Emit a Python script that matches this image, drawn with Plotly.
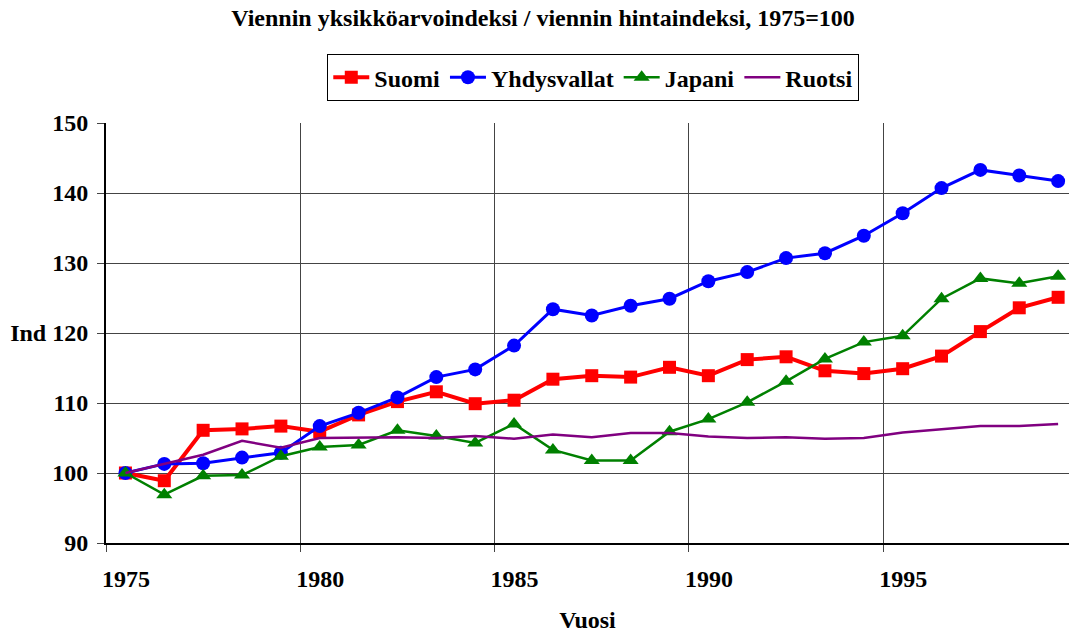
import plotly.graph_objects as go

years = list(range(1975, 2000))
suomi = [100, 98.9, 106.1, 106.3, 106.7, 105.9, 108.3, 110.2, 111.6, 109.9, 110.4, 113.4, 113.9,
         113.7, 115.1, 113.9, 116.2, 116.6, 114.6, 114.2, 114.9, 116.7, 120.2, 123.6, 125.1]
yhdysvallat = [100, 101.3, 101.4, 102.2, 102.9, 106.7, 108.6, 110.8, 113.7, 114.8, 118.2, 123.4, 122.5,
               123.9, 124.9, 127.4, 128.7, 130.7, 131.4, 133.9, 137.1, 140.7, 143.3, 142.5, 141.7]
japani = [100, 96.9, 99.6, 99.7, 102.4, 103.7, 104.0, 106.1, 105.3, 104.3, 107.0, 103.3, 101.8,
          101.8, 105.9, 107.7, 110.1, 113.1, 116.3, 118.7, 119.6, 124.9, 127.8, 127.1, 128.1]
ruotsi = [100, 101.3, 102.6, 104.6, 103.6, 105.0, 105.1, 105.1, 105.0, 105.3, 104.9, 105.5, 105.1,
          105.7, 105.7, 105.2, 105.0, 105.1, 104.9, 105.0, 105.8, 106.2, 106.7, 106.7, 107.0]

y_tickvals = [90, 100, 110, 120, 130, 140, 150]
y_ticktext = ["90", "100", "110", "Ind 120", "130", "140", "150"]
x_tickvals = [1975, 1980, 1985, 1990, 1995]
x_ticktext = ["1975", "1980", "1985", "1990", "1995"]

# data points sit mid-year
xs = [y + 0.5 for y in years]

FONT = "Liberation Serif, Times New Roman, serif"
FS = 24

fig = go.Figure()
fig.add_trace(go.Scatter(x=xs, y=suomi, name="Suomi", mode="lines+markers",
                         line=dict(color="#FF0000", width=4),
                         marker=dict(symbol="square", size=13, color="#FF0000")))
fig.add_trace(go.Scatter(x=xs, y=yhdysvallat, name="Yhdysvallat", mode="lines+markers",
                         line=dict(color="#0000FF", width=3),
                         marker=dict(symbol="circle", size=14, color="#0000FF")))
fig.add_trace(go.Scatter(x=xs, y=japani, name="Japani", mode="lines+markers",
                         line=dict(color="#008000", width=2.5),
                         marker=dict(symbol="triangle-up", size=14, color="#008000")))
fig.add_trace(go.Scatter(x=xs, y=ruotsi, name="Ruotsi", mode="lines",
                         line=dict(color="#800080", width=2.5)))

fig.update_layout(
    width=1069, height=633,
    margin=dict(l=106, r=0, t=123, b=90),
    paper_bgcolor="white", plot_bgcolor="white",
    font=dict(family=FONT, size=FS, color="black", weight="bold"),
    title=dict(text="Viennin yksikköarvoindeksi / viennin hintaindeksi, 1975=100",
               x=0.508, xanchor="center", y=0.972, yanchor="middle",
               font=dict(family=FONT, size=FS, color="black", weight="bold")),
    legend=dict(orientation="h", x=0.506, xanchor="center", y=1.164, yanchor="top",
                bordercolor="black", borderwidth=1, bgcolor="white",
                font=dict(family=FONT, size=FS, color="black", weight="bold"),
                itemwidth=36, tracegroupgap=0),
    showlegend=True,
)
fig.update_xaxes(
    range=[1975, 1999.78], tickvals=x_tickvals, ticktext=x_ticktext,
    showgrid=True, gridcolor="#444444", gridwidth=1,
    showline=True, linecolor="black", linewidth=2,
    ticks="outside", ticklen=7, tickcolor="#444444", tickwidth=1,
    ticklabelshift=20, ticklabelstandoff=6,
    tickfont=dict(family=FONT, size=FS, color="black", weight="bold"),
    title=dict(text="Vuosi", standoff=22,
               font=dict(family=FONT, size=FS, color="black", weight="bold")),
    zeroline=False,
)
fig.update_yaxes(
    range=[90, 150], tickvals=y_tickvals, ticktext=y_ticktext,
    showgrid=True, gridcolor="#444444", gridwidth=1,
    showline=True, linecolor="black", linewidth=2,
    ticks="outside", ticklen=7, tickcolor="#444444", tickwidth=1,
    ticklabelstandoff=4,
    tickfont=dict(family=FONT, size=FS, color="black", weight="bold"),
    zeroline=False,
)

fig.write_html("out.html", config={"displayModeBar": False},
               post_script="document.body.style.margin='0';document.body.style.overflow='hidden';")
